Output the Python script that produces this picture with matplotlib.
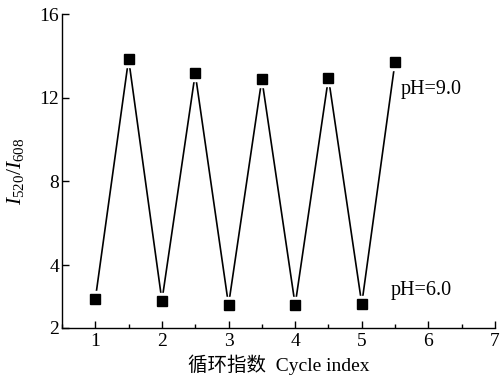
import matplotlib
matplotlib.use("Agg")
import matplotlib.pyplot as plt
from matplotlib.ticker import MultipleLocator

plt.rcParams['font.family'] = ['Liberation Serif', 'Noto Sans CJK SC', 'DejaVu Sans']
plt.rcParams['mathtext.fontset'] = 'custom'
plt.rcParams['mathtext.rm'] = 'Liberation Serif'
plt.rcParams['mathtext.it'] = 'Liberation Serif:italic'

# data
cycle = [1, 1.5, 2, 2.5, 3, 3.5, 4, 4.5, 5, 5.5]
ratio = [2.37, 13.85, 2.30, 13.16, 2.10, 12.89, 2.10, 12.95, 2.15, 13.72]
ytick_pos = [1, 4, 8, 12, 16]
ytick_labels = ['2', '4', '8', '12', '16']
xticks = [1, 2, 3, 4, 5, 6, 7]

fig = plt.figure(figsize=(5, 3.8), dpi=100)
ax = fig.add_axes([0.124, 0.137, 0.866, 0.826])

ax.plot(cycle, ratio, color='black', lw=1.2, zorder=2)
ax.plot(cycle, ratio, ls='none', marker='s', ms=11, mfc='white', mec='white', zorder=3)
ax.plot(cycle, ratio, ls='none', marker='s', ms=6.5, mfc='black', mec='black', zorder=4)

ax.set_xlim(0.5, 7)
ax.set_ylim(1, 16)
ax.set_xticks(xticks)
ax.set_xticklabels([str(v) for v in xticks])
ax.xaxis.set_minor_locator(MultipleLocator(0.5))
ax.set_yticks(ytick_pos)
ax.set_yticklabels(ytick_labels)

for s in ['top', 'right']:
    ax.spines[s].set_visible(False)
for s in ['left', 'bottom']:
    ax.spines[s].set_linewidth(1.0)

ax.tick_params(axis='both', which='major', direction='in', length=5, width=1.0,
               labelsize=14, pad=2)
ax.tick_params(axis='x', which='minor', direction='in', length=3, width=1.0)
ax.tick_params(axis='x', which='major', pad=4)

ax.set_xlabel('循环指数  Cycle index', fontsize=14, labelpad=3)
ax.set_ylabel(r'$I_{\mathrm{520}}/I_{\mathrm{608}}$', fontsize=15.5, labelpad=10)

ax.text(5.58, 12.4, 'pH=9.0', fontsize=14.5, va='center', ha='left')
ax.text(5.43, 2.8, 'pH=6.0', fontsize=14.5, va='center', ha='left')

fig.savefig('out.png', dpi=100)
